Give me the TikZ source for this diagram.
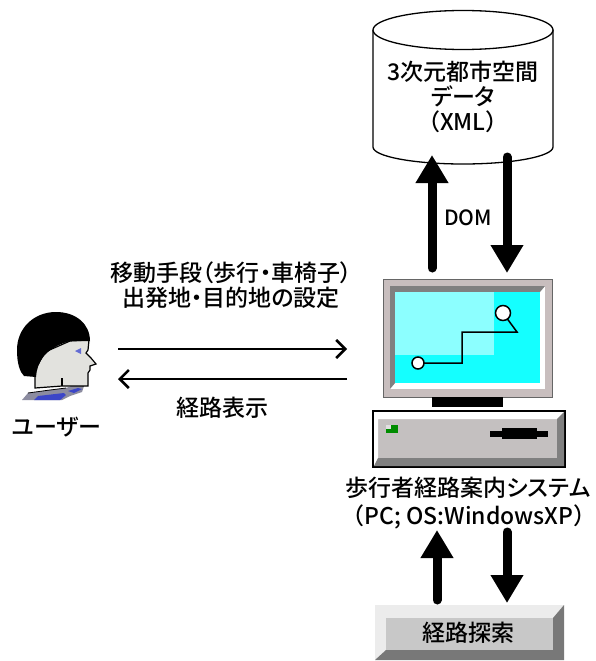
\documentclass[tikz,border=0pt]{standalone}
\usepackage{fontspec}
\setmainfont{Noto Sans CJK JP}[UprightFont=* Medium, RawFeature=+palt]
\newfontfamily\jpfull{Noto Sans CJK JP}[UprightFont=* Medium]
\usetikzlibrary{arrows.meta}

\definecolor{bezel}{RGB}{200,190,190}
\definecolor{bevdark}{RGB}{128,128,128}
\definecolor{scrcyan}{RGB}{20,255,255}
\definecolor{scrlight}{RGB}{140,255,255}
\definecolor{caseface}{RGB}{196,192,192}
\definecolor{ledgreen}{RGB}{0,140,0}
\definecolor{btnlight}{RGB}{236,236,236}
\definecolor{btnface}{RGB}{200,200,200}
\definecolor{btndark}{RGB}{120,120,120}
\definecolor{skin}{RGB}{226,226,222}
\definecolor{collargray}{RGB}{140,140,160}
\definecolor{collarblue}{RGB}{60,70,200}

\tikzset{
  txt/.style={font=\fontsize{23}{25}\selectfont, align=center, inner sep=0pt},
  bigarrow/.style={line width=9pt, line cap=round, -{Triangle[length=28pt,width=31pt]}},
  thinarrow/.style={line width=2.5pt, -{Straight Barb[length=9pt,width=18pt]}},
  outline/.style={draw=black, line width=1.3pt},
}

\begin{document}
\begin{tikzpicture}[x=1pt,y=-1pt]
\fill[white] (0,0) rectangle (595,661);
\useasboundingbox (0,0) rectangle (595,661);

% ---------- database cylinder ----------
% body: sides and lower rim
\path[fill=white, outline] (373,30) -- (373,147)
  .. controls (373,156.4) and (413.3,164) .. (463,164)
  .. controls (512.7,164) and (553,156.4) .. (553,147) -- (553,30);
% top face
\path[fill=white, outline] (373,30)
  .. controls (373,19.2) and (413.3,10.5) .. (463,10.5)
  .. controls (512.7,10.5) and (553,19.2) .. (553,30)
  .. controls (553,40.8) and (512.7,49.5) .. (463,49.5)
  .. controls (413.3,49.5) and (373,40.8) .. (373,30) -- cycle;
\node[txt] (db) at (463,97) {3次元都市空間\\データ\\{\jpfull （XML）}};

% ---------- monitor ----------
\path[fill=bezel, draw=black!60, line width=1pt] (383,279) rectangle (552,397);
\fill[white] (390,286) rectangle (545,389);
\fill[bevdark] (390,286) -- (545,286) -- (540,292) -- (395,292) -- (395,383) -- (390,389) -- cycle;
\fill[scrcyan] (395,292) rectangle (540,383);
\fill[scrlight] (395,292) rectangle (494,355);
\draw[line width=1.5pt] (418,363) -- (462,363) -- (462,332) -- (517,332) -- (503,313);
\draw[fill=white, line width=1.5pt] (418,363) circle[radius=6pt];
\draw[fill=white, line width=1.5pt] (503,313) circle[radius=7.5pt];
\fill[black] (432,397) rectangle (503,407);

% ---------- system unit ----------
\path[fill=caseface, draw=black, line width=2pt] (373,411) rectangle (565,467);
\fill[white] (374,412) -- (564,412) -- (557,419) -- (378,419) -- (378,458) -- (374,466) -- cycle;
\fill[bevdark] (564,412) -- (564,466) -- (374,466) -- (378,458) -- (557,458) -- (557,419) -- cycle;
\fill[ledgreen] (386,425) rectangle (398,433);
\fill[black!12] (386,425) rectangle (391,429);
\fill[black] (490,431) rectangle (548,437);
\fill[black] (502,428) rectangle (537,439);

\node[txt] (sys) at (468,488) {歩行者経路案内システム};
\node[txt] (sysos) at (469,517) {\jpfull （PC; OS:WindowsXP）};

% ---------- route search button ----------
\fill[btnlight] (375,605) -- (564,605) -- (553,618) -- (386,618) -- (386,650) -- (375,660) -- cycle;
\fill[btndark] (564,605) -- (564,660) -- (375,660) -- (386,650) -- (553,650) -- (553,618) -- cycle;
\fill[btnface] (386,618) rectangle (553,650);
\node[txt] (search) at (468,633) {経路探索};

% ---------- user ----------
\fill[collargray] (22,400) -- (28,393) -- (50,390) -- (66,388) -- (74,385) -- (84,386) -- (82,392) -- (70,396) -- (62,400) -- cycle;
\fill[collarblue] (34,400) -- (38,396) -- (64,393) -- (66,395) -- (60,400) -- cycle;
\fill[collarblue] (68,391) -- (78,388) -- (82,389) -- (74,393) -- cycle;
\draw[line width=0.8pt] (28,393) -- (50,390) -- (66,388) (74,385) -- (84,386);
\path[fill=skin, draw=black, line width=1.2pt]
  (89,340) -- (88,350) -- (86,353) -- (91,358) -- (96,364) -- (90,366) -- (90,370) -- (88,373)
  -- (88,386) -- (62,386) -- (35,388) -- (35,370) -- (45,352) -- (70,341) -- cycle;
\draw[line width=1.2pt] (62,378) -- (62,386);
\fill[black] (90,341) .. controls (90,324) and (76,312) .. (56,312)
  .. controls (34,312) and (17,328) .. (17,350)
  .. controls (17,364) and (20,372) .. (24,376) -- (36,377)
  .. controls (37,362) and (45,348) .. (70,341) -- cycle;
\fill[collarblue!80] (75,351) -- (81,348) -- (81,354) -- cycle;
\node[txt] (user) at (57,427) {ユーザー};

% ---------- connectors ----------
\coordinate (reqL) at (118,349);
\coordinate (reqR) at (347,349);
\coordinate (resL) at (118,379);
\coordinate (resR) at (347,379);
\draw[thinarrow] (reqL) -- (reqR);
\draw[thinarrow] (resR) -- (resL);
\node[txt] (req) at (231,285) {\fontsize{23}{30}\selectfont 移動手段（歩行・車椅子）\\出発地・目的地の設定};
\node[txt] (res) at (222,408) {経路表示};

\coordinate (domUpS) at (432,268);
\coordinate (domUpE) at (432,155);
\coordinate (domDnS) at (507,157);
\coordinate (domDnE) at (507,273);
\draw[bigarrow] (domUpS) -- (domUpE);
\draw[bigarrow] (domDnS) -- (domDnE);
\node[font=\fontsize{21}{25}\selectfont, inner sep=0pt] (dom) at (468,218) {DOM};

\coordinate (qUpS) at (437,600);
\coordinate (qUpE) at (437,530);
\coordinate (qDnS) at (507,532);
\coordinate (qDnE) at (507,603);
\draw[bigarrow] (qUpS) -- (qUpE);
\draw[bigarrow] (qDnS) -- (qDnE);
\end{tikzpicture}
\end{document}
